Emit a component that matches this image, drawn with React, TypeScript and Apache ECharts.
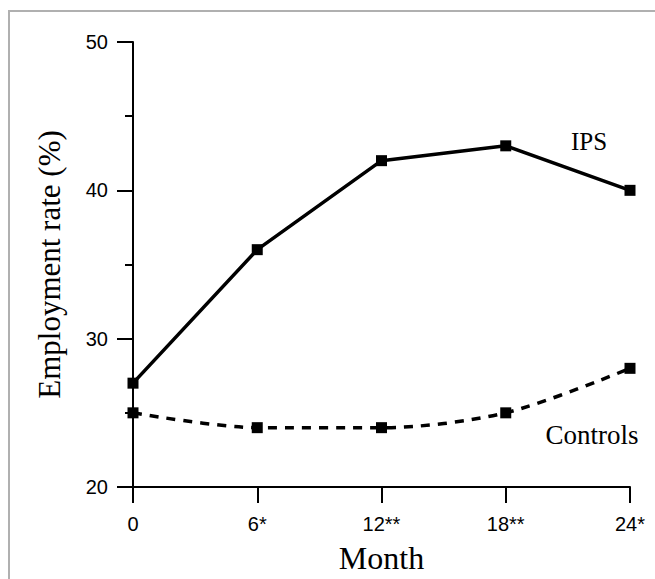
import React, { useEffect, useRef } from "react";
import * as echarts from "echarts";

const months = [0, 6, 12, 18, 24];
const monthLabels = ["0", "6*", "12**", "18**", "24*"];
const ipsValues = [27, 36, 42, 43, 40];
const controlValues = [25, 24, 24, 25, 28];
const yTicks = [20, 30, 40, 50];

export default function App() {
  const ref = useRef<HTMLDivElement>(null);
  useEffect(() => {
    document.body.style.margin = "0";
    const chart = echarts.init(ref.current!, null, { renderer: "svg" });
    const serif = "Liberation Serif";
    const sans = "Liberation Sans";
    chart.setOption({
      animation: false,
      backgroundColor: "#fff",
      grid: { left: 133, right: 25, top: 42, bottom: 87 },
      xAxis: {
        type: "value",
        min: 0,
        max: 24,
        interval: 6,
        name: "Month",
        nameLocation: "middle",
        nameGap: 55,
        nameTextStyle: { fontFamily: serif, fontSize: 32, color: "#000" },
        axisLine: { lineStyle: { color: "#000", width: 2 } },
        axisTick: { show: true, length: 16, lineStyle: { color: "#000", width: 2 } },
        axisLabel: {
          margin: 27,
          fontFamily: sans,
          fontSize: 20,
          color: "#000",
          formatter: (v: number) => {
            const i = months.indexOf(v);
            return i >= 0 ? monthLabels[i] : "";
          },
        },
        splitLine: { show: false },
      },
      yAxis: {
        type: "value",
        min: yTicks[0],
        max: yTicks[yTicks.length - 1],
        interval: 10,
        name: "Employment rate (%)",
        nameLocation: "middle",
        nameGap: 68,
        nameTextStyle: { fontFamily: serif, fontSize: 31, color: "#000" },
        axisLine: { show: true, lineStyle: { color: "#000", width: 2 } },
        axisTick: { show: true, length: 16, lineStyle: { color: "#000", width: 2 } },
        minorTick: { show: true, splitNumber: 2, length: 8, lineStyle: { color: "#000", width: 2 } },
        axisLabel: { margin: 25, fontFamily: sans, fontSize: 20, color: "#000" },
        splitLine: { show: false },
      },
      graphic: [
        {
          type: "rect",
          shape: { x: 9, y: 11, width: 700, height: 620 },
          style: { fill: "none", stroke: "#b0b0b0", lineWidth: 2 },
          silent: true,
        },
        {
          type: "text",
          x: 589,
          y: 141,
          style: {
            text: "IPS",
            fontFamily: serif,
            fontSize: 25,
            fill: "#000",
            textAlign: "center",
            textVerticalAlign: "middle",
          },
        },
        {
          type: "text",
          x: 592,
          y: 435,
          style: {
            text: "Controls",
            fontFamily: serif,
            fontSize: 27,
            fill: "#000",
            textAlign: "center",
            textVerticalAlign: "middle",
          },
        },
      ],
      series: [
        {
          name: "IPS",
          type: "line",
          data: months.map((m, i) => [m, ipsValues[i]]),
          symbol: "rect",
          symbolSize: 11,
          itemStyle: { color: "#000" },
          lineStyle: { color: "#000", width: 3.5 },
        },
        {
          name: "Controls",
          type: "line",
          data: months.map((m, i) => [m, controlValues[i]]),
          smooth: 0.3,
          symbol: "rect",
          symbolSize: 11,
          itemStyle: { color: "#000" },
          lineStyle: { color: "#000", width: 3.5, type: [9, 8] },
        },
      ],
    });
    return () => chart.dispose();
  }, []);
  return <div ref={ref} style={{ width: 655, height: 579 }} />;
}
